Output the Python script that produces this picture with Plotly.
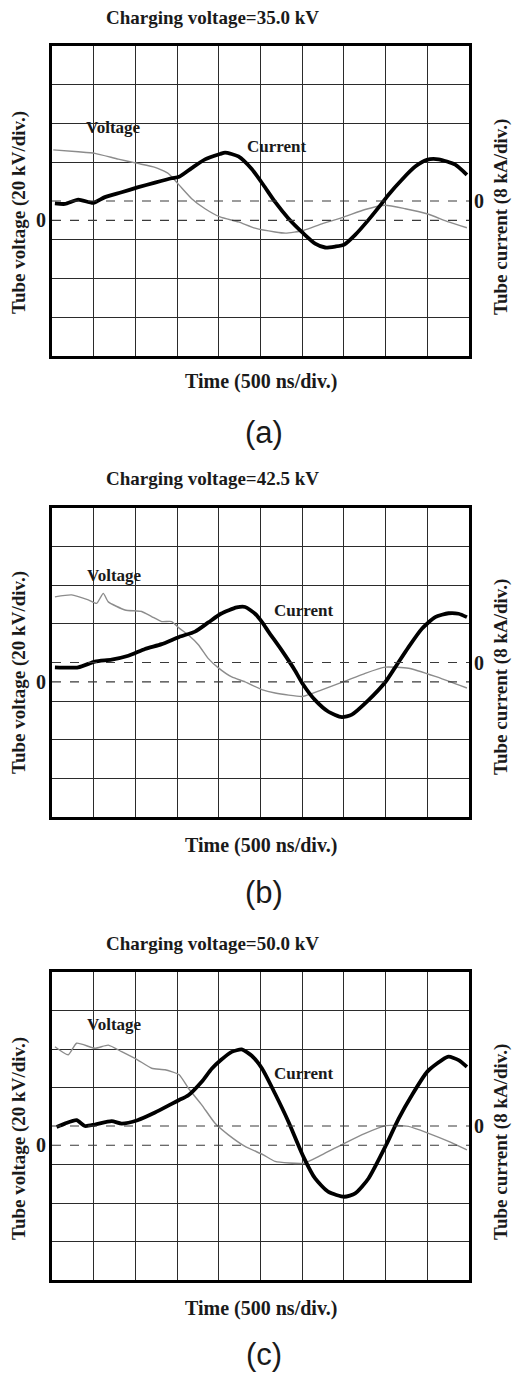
import plotly.graph_objects as go

# ---- recorded waveforms (time in ns, voltage in kV, current in kA) ----
charging_kv = ["35.0", "42.5", "50.0"]
panel_tags = ["(a)", "(b)", "(c)"]

# (a) 35.0 kV
a_cur_t = [35, 155, 315, 495, 635, 835, 1025, 1235, 1435, 1525, 1675, 1835, 2015, 2075, 2235,
           2395, 2535, 2675, 2835, 3015, 3155, 3275, 3395, 3505, 3635, 3795, 3955, 4035, 4195,
           4355, 4495, 4635, 4835, 4975]
a_cur = [-0.5, -0.6, 0.3, -0.4, 0.8, 1.8, 2.8, 3.8, 4.7, 5.0, 6.8, 8.6, 9.7, 10.0, 9.2,
         6.6, 3.3, -0.2, -3.6, -6.7, -8.8, -9.6, -9.4, -9.0, -7.0, -3.9, -0.5, 1.3, 4.4,
         7.1, 8.5, 8.6, 7.5, 5.4]
a_vol_t = [15, 315, 515, 795, 1025, 1235, 1395, 1525, 1675, 1835, 2015, 2235, 2435, 2675,
           2800, 3015, 3235, 3505, 3755, 3995, 4235, 4495, 4755, 4975]
a_vol = [36.4, 35.4, 34.6, 31.6, 29.4, 27.4, 24.2, 18.2, 11.2, 6.0, 1.8, -0.8, -4.0, -6.0,
         -6.6, -5.2, -1.8, 1.8, 5.6, 7.8, 6.0, 3.4, -0.8, -3.8]

# (b) 42.5 kV
b_cur_t = [35, 315, 515, 715, 915, 1115, 1315, 1525, 1715, 1875, 2025, 2215, 2315, 2435, 2525,
           2595, 2755, 2915, 3005, 3155, 3315, 3475, 3595, 3795, 3995, 4115, 4275, 4435, 4595,
           4755, 4875, 4975]
b_cur = [-1.0, -1.0, 0.2, 0.6, 1.4, 2.8, 3.8, 5.3, 6.4, 8.3, 10.1, 11.4, 11.5, 10.1, 8.2,
         6.4, 2.5, -1.7, -4.4, -7.8, -10.2, -11.3, -10.8, -7.8, -4.1, -1.0, 3.2, 7.0, 9.4,
         10.2, 10.1, 9.4]
b_vol_t = [35, 235, 435, 535, 615, 675, 875, 1075, 1195, 1315, 1435, 1525, 1635, 1755, 1875,
           1995, 2155, 2315, 2515, 2675, 3005, 3235, 3505, 3755, 3995, 4275, 4595, 4975]
b_vol = [44.0, 45.0, 42.4, 40.6, 45.8, 41.4, 37.2, 36.4, 33.8, 31.2, 31.2, 27.8, 24.2, 19.2,
         12.0, 7.2, 2.5, 0.0, -4.0, -5.8, -7.6, -4.2, 0.2, 4.4, 7.6, 7.0, 2.8, -3.2]

# (c) 50.0 kV
c_cur_t = [55, 155, 295, 395, 515, 715, 835, 1025, 1235, 1435, 1525, 1635, 1795, 1915, 2025,
           2155, 2275, 2395, 2520, 2675, 2835, 3015, 3155, 3315, 3505, 3635, 3795, 4005, 4155,
           4315, 4500, 4675, 4755, 4875, 4975]
c_cur = [-0.2, 0.5, 1.2, 0.0, 0.3, 1.0, 0.5, 1.2, 2.8, 4.6, 5.4, 6.4, 9.2, 11.9, 13.7,
         15.4, 15.9, 14.6, 11.9, 6.7, 0.9, -6.4, -10.9, -13.7, -14.7, -14.0, -10.9, -4.0, 1.5,
         6.4, 11.3, 13.7, 14.4, 13.7, 12.3]
c_vol_t = [35, 195, 295, 515, 675, 835, 1025, 1195, 1355, 1525, 1635, 1795, 1955, 2115, 2315,
           2535, 2675, 3015, 3235, 3505, 3755, 4005, 4275, 4515, 4755, 4975]
c_vol = [51.2, 47.0, 53.0, 50.4, 52.0, 48.6, 44.4, 40.0, 39.2, 36.6, 29.6, 21.0, 11.4, 5.4,
         -0.6, -5.0, -8.4, -9.4, -5.0, 1.0, 6.2, 10.2, 9.8, 6.2, 2.0, -2.4]

# label anchors (time in ns, value in the trace's own unit)
voltage_label_pos = [(740, 47.8), (750, 55.2), (750, 62.8)]
current_label_pos = [(2700, 11.2), (3020, 10.7), (3020, 10.9)]

panels = [
    (a_cur_t, a_cur, a_vol_t, a_vol),
    (b_cur_t, b_cur, b_vol_t, b_vol),
    (c_cur_t, c_cur, c_vol_t, c_vol),
]

W, H = 513, 1377
# plot boxes in pixels: (left, top, right, bottom)
boxes = [(52, 46, 469, 356), (52, 508, 469, 817), (52, 972, 469, 1280)]
# text rows in pixels: title y, time-label y, tag y, left-title y, right-title y
text_rows = [(17, 382, 432, 213, 217), (478, 845, 892, 673, 677), (943, 1308, 1354, 1139, 1142)]

SERIF = "Liberation Serif, Times New Roman, serif"
SANS = "Liberation Sans, Arial, sans-serif"
INK = "#1a1a1a"
GRID = "#2b2b2b"


def px(x):
    return x / W


def py(y):
    return 1 - y / H


fig = go.Figure()
layout = dict(
    width=W, height=H, margin=dict(l=0, r=0, t=0, b=0),
    paper_bgcolor="white", plot_bgcolor="white", showlegend=False,
)
annotations = []
shapes = []

for i, (ct, cv, vt, vv) in enumerate(panels):
    n = i + 1
    xa = "x" if n == 1 else f"x{n}"
    ya_v = "y" if n == 1 else f"y{2 * n - 1}"
    ya_c = f"y{2 * n}"
    xkey = "xaxis" if n == 1 else f"xaxis{n}"
    yvkey = "yaxis" if n == 1 else f"yaxis{2 * n - 1}"
    yckey = f"yaxis{2 * n}"

    l, t, r, b = boxes[i]
    layout[xkey] = dict(
        domain=[px(l), px(r)], anchor=ya_v, range=[0, 5000],
        tickmode="linear", tick0=0, dtick=500, showticklabels=False, ticks="",
        showgrid=True, gridcolor=GRID, gridwidth=1.2, zeroline=False,
        showline=True, linecolor="black", linewidth=3, mirror=True,
    )
    # voltage: 20 kV/div, 0 kV sits 3.5 div above the bottom edge
    layout[yvkey] = dict(
        domain=[py(b), py(t)], anchor=xa, range=[-70, 90],
        tickmode="array", tickvals=[-50, -30, -10, 30, 50, 70],
        showticklabels=False, ticks="",
        showgrid=True, gridcolor=GRID, gridwidth=1.2, zeroline=False,
        showline=True, linecolor="black", linewidth=3, mirror=True,
    )
    # current: 8 kA/div, 0 kA on the centre line
    layout[yckey] = dict(
        domain=[py(b), py(t)], anchor=xa, overlaying=ya_v, side="right",
        range=[-32, 32], showticklabels=False, ticks="", showgrid=False,
        zeroline=False, showline=False,
    )

    # dashed baselines of the two channels
    shapes.append(dict(type="line", xref=f"{xa} domain", x0=0, x1=1, yref=ya_v, y0=0, y1=0,
                       line=dict(color="#3a3a3a", width=1.2, dash="dash")))
    shapes.append(dict(type="line", xref=f"{xa} domain", x0=0, x1=1, yref=ya_c, y0=0, y1=0,
                       line=dict(color="#3a3a3a", width=1.2, dash="dash")))

    fig.add_trace(go.Scatter(
        x=vt, y=vv, xaxis=xa, yaxis=ya_v, mode="lines", name="Voltage",
        line=dict(color="#8c8c8c", width=1.4, shape="spline", smoothing=0.5),
        hoverinfo="skip",
    ))
    fig.add_trace(go.Scatter(
        x=ct, y=cv, xaxis=xa, yaxis=ya_c, mode="lines", name="Current",
        line=dict(color="black", width=3.8, shape="spline", smoothing=0.6),
        hoverinfo="skip",
    ))

    ty, timey, tagy, lty, rty = text_rows[i]
    annotations += [
        dict(text=f"<b>Charging voltage={charging_kv[i]} kV</b>", x=px(212), y=py(ty),
             xref="paper", yref="paper", showarrow=False, xanchor="center", yanchor="middle",
             font=dict(family=SERIF, size=19, color=INK)),
        dict(text="<b>Time (500 ns/div.)</b>", x=px(261), y=py(timey),
             xref="paper", yref="paper", showarrow=False, xanchor="center", yanchor="middle",
             font=dict(family=SERIF, size=20, color=INK)),
        dict(text=panel_tags[i], x=px(264), y=py(tagy),
             xref="paper", yref="paper", showarrow=False, xanchor="center", yanchor="middle",
             font=dict(family=SANS, size=31, color=INK)),
        dict(text="<b>Tube voltage (20 kV/div.)</b>", x=px(19), y=py(lty), textangle=-90,
             xref="paper", yref="paper", showarrow=False, xanchor="center", yanchor="middle",
             font=dict(family=SERIF, size=19, color=INK)),
        dict(text="<b>Tube current (8 kA/div.)</b>", x=px(501), y=py(rty), textangle=-90,
             xref="paper", yref="paper", showarrow=False, xanchor="center", yanchor="middle",
             font=dict(family=SERIF, size=19, color=INK)),
        # zero marks of both channels
        dict(text="<b>0</b>", x=px(41), y=0, xref="paper", yref=ya_v, showarrow=False,
             xanchor="center", yanchor="middle", font=dict(family=SERIF, size=20, color=INK)),
        dict(text="<b>0</b>", x=px(479), y=0, xref="paper", yref=ya_c, showarrow=False,
             xanchor="center", yanchor="middle", font=dict(family=SERIF, size=20, color=INK)),
        # trace labels
        dict(text="<b>Voltage</b>", x=voltage_label_pos[i][0], y=voltage_label_pos[i][1],
             xref=xa, yref=ya_v, showarrow=False, xanchor="center", yanchor="middle",
             font=dict(family=SERIF, size=17, color=INK)),
        dict(text="<b>Current</b>", x=current_label_pos[i][0], y=current_label_pos[i][1],
             xref=xa, yref=ya_c, showarrow=False, xanchor="center", yanchor="middle",
             font=dict(family=SERIF, size=17, color=INK)),
    ]

layout["annotations"] = annotations
layout["shapes"] = shapes
fig.update_layout(**layout)
fig.write_html("out.html")
